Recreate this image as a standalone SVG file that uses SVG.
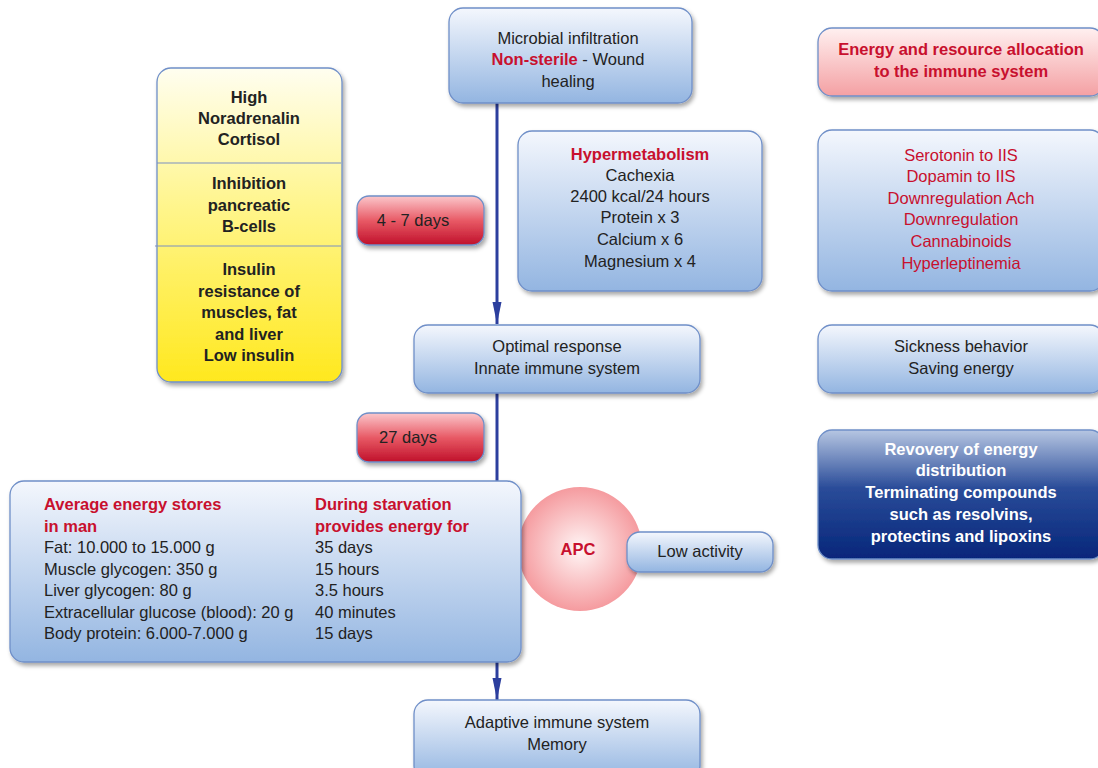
<svg xmlns="http://www.w3.org/2000/svg" width="1098" height="768" viewBox="0 0 1098 768">
<defs>
<linearGradient id="gBlue" x1="0" y1="0" x2="0" y2="1">
<stop offset="0" stop-color="#f4f7fd"/>
<stop offset="1" stop-color="#93b5e1"/>
</linearGradient>
<linearGradient id="gYellow" x1="0" y1="0" x2="0" y2="1">
<stop offset="0" stop-color="#fffef0"/>
<stop offset="0.45" stop-color="#fff58a"/>
<stop offset="1" stop-color="#ffe81e"/>
</linearGradient>
<linearGradient id="gPink" x1="0" y1="0" x2="0" y2="1">
<stop offset="0" stop-color="#fff0f0"/>
<stop offset="1" stop-color="#f4a0a3"/>
</linearGradient>
<linearGradient id="gRed" x1="0" y1="0" x2="0" y2="1">
<stop offset="0" stop-color="#fbc7cb"/>
<stop offset="0.5" stop-color="#e85a66"/>
<stop offset="1" stop-color="#c0102a"/>
</linearGradient>
<linearGradient id="gNavy" x1="0" y1="0" x2="0" y2="1">
<stop offset="0" stop-color="#b6c6e2"/>
<stop offset="0.45" stop-color="#2a4c99"/>
<stop offset="1" stop-color="#06267a"/>
</linearGradient>
<radialGradient id="gApc" cx="0.5" cy="0.5" r="0.5">
<stop offset="0" stop-color="#fff6f6"/>
<stop offset="1" stop-color="#f59b9f"/>
</radialGradient>
<filter id="sh" x="-10%" y="-10%" width="130%" height="140%">
<feDropShadow dx="2" dy="3" stdDeviation="2" flood-color="#000" flood-opacity="0.35"/>
</filter>
<marker id="arr" markerWidth="22" markerHeight="10" refX="22" refY="5" orient="auto" markerUnits="userSpaceOnUse" viewBox="0 0 22 10">
<path d="M0,0.5 L22,5 L0,9.5 Z" fill="#2c3f9e"/>
</marker>
</defs>
<style>
.box{stroke:#6f8fc8;stroke-width:1.3;filter:url(#sh)}
.blue{fill:url(#gBlue)}
.t{font-family:"Liberation Sans","Open Sans",sans-serif;font-size:16.5px;fill:#222;text-anchor:middle}
.b{font-weight:bold}
.red{fill:#c8102e}
.w{fill:#fff}
.l{text-anchor:start}
.conn{stroke:#2c3f9e;stroke-width:3;fill:none}
</style>
<rect width="1098" height="768" fill="#fff"/>

<g id="connectors">
<line class="conn" x1="497" y1="103" x2="497" y2="324" marker-end="url(#arr)"/>
<line class="conn" x1="497" y1="393" x2="497" y2="482"/>
<line class="conn" x1="497" y1="662" x2="497" y2="700" marker-end="url(#arr)"/>
</g>

<g id="hormones">
<rect class="box" x="157" y="68" width="185" height="314" rx="14" fill="url(#gYellow)"/>
<line x1="157" y1="163" x2="341" y2="163" stroke="#7b8fc2" stroke-width="1"/>
<line x1="155" y1="246" x2="341" y2="246" stroke="#7b8fc2" stroke-width="1"/>
<text class="t b" x="249" y="103">High</text>
<text class="t b" x="249" y="124">Noradrenalin</text>
<text class="t b" x="249" y="145">Cortisol</text>
<text class="t b" x="249" y="189">Inhibition</text>
<text class="t b" x="249" y="211">pancreatic</text>
<text class="t b" x="249" y="232">B-cells</text>
<text class="t b" x="249" y="275">Insulin</text>
<text class="t b" x="249" y="297">resistance of</text>
<text class="t b" x="249" y="318">muscles, fat</text>
<text class="t b" x="249" y="340">and liver</text>
<text class="t b" x="249" y="361">Low insulin</text>
</g>

<g id="microbial">
<rect class="box blue" x="449" y="8" width="243" height="95" rx="14"/>
<text class="t" x="568" y="44">Microbial infiltration</text>
<text class="t" x="568" y="65"><tspan class="b red">Non-sterile</tspan> - Wound</text>
<text class="t" x="568" y="87">healing</text>
</g>

<g id="energy-alloc">
<rect class="box" x="818" y="28" width="286" height="68" rx="14" fill="url(#gPink)" stroke="#e58d93"/>
<text class="t b red" x="961" y="55">Energy and resource allocation</text>
<text class="t b red" x="961" y="77">to the immune system</text>
</g>

<g id="hypermetabolism">
<rect class="box blue" x="518" y="131" width="244" height="160" rx="14"/>
<text class="t b red" x="640" y="160">Hypermetabolism</text>
<text class="t" x="640" y="181">Cachexia</text>
<text class="t" x="640" y="202">2400 kcal/24 hours</text>
<text class="t" x="640" y="223">Protein x 3</text>
<text class="t" x="640" y="245">Calcium x 6</text>
<text class="t" x="640" y="267">Magnesium x 4</text>
</g>

<g id="neuro">
<rect class="box blue" x="818" y="130" width="286" height="161" rx="14"/>
<text class="t red" x="961" y="161">Serotonin to IIS</text>
<text class="t red" x="961" y="182">Dopamin to IIS</text>
<text class="t red" x="961" y="204">Downregulation Ach</text>
<text class="t red" x="961" y="225">Downregulation</text>
<text class="t red" x="961" y="247">Cannabinoids</text>
<text class="t red" x="961" y="269">Hyperleptinemia</text>
</g>

<g id="days47">
<rect class="box" x="357" y="196" width="127" height="49" rx="12" fill="url(#gRed)" stroke="#d0505c"/>
<text class="t" x="413" y="226">4 - 7 days</text>
</g>

<g id="optimal">
<rect class="box blue" x="414" y="325" width="286" height="68" rx="14"/>
<text class="t" x="557" y="352">Optimal response</text>
<text class="t" x="557" y="374">Innate immune system</text>
</g>

<g id="sickness">
<rect class="box blue" x="818" y="325" width="286" height="68" rx="14"/>
<text class="t" x="961" y="352">Sickness behavior</text>
<text class="t" x="961" y="374">Saving energy</text>
</g>

<g id="days27">
<rect class="box" x="357" y="413" width="127" height="49" rx="12" fill="url(#gRed)" stroke="#d0505c"/>
<text class="t" x="408" y="443">27 days</text>
</g>

<g id="recovery">
<rect class="box" x="818" y="430" width="286" height="129" rx="14" fill="url(#gNavy)" stroke="#1d3a86"/>
<text class="t b w" x="961" y="455">Revovery of energy</text>
<text class="t b w" x="961" y="476">distribution</text>
<text class="t b w" x="961" y="498">Terminating compounds</text>
<text class="t b w" x="961" y="520">such as resolvins,</text>
<text class="t b w" x="961" y="542">protectins and lipoxins</text>
</g>

<g id="apc">
<circle cx="580" cy="549" r="62" fill="url(#gApc)"/>
<text class="t b red" x="578" y="555">APC</text>
</g>

<g id="energy-stores">
<rect class="box blue" x="10" y="481" width="511" height="181" rx="14"/>
<text class="t b red l" x="44" y="510">Average energy stores</text>
<text class="t b red l" x="44" y="532">in man</text>
<text class="t l" x="44" y="553">Fat: 10.000 to 15.000 g</text>
<text class="t l" x="44" y="575">Muscle glycogen: 350 g</text>
<text class="t l" x="44" y="596">Liver glycogen: 80 g</text>
<text class="t l" x="44" y="618">Extracellular glucose (blood): 20 g</text>
<text class="t l" x="44" y="639">Body protein: 6.000-7.000 g</text>
<text class="t b red l" x="315" y="510">During starvation</text>
<text class="t b red l" x="315" y="532">provides energy for</text>
<text class="t l" x="315" y="553">35 days</text>
<text class="t l" x="315" y="575">15 hours</text>
<text class="t l" x="315" y="596">3.5 hours</text>
<text class="t l" x="315" y="618">40 minutes</text>
<text class="t l" x="315" y="639">15 days</text>
</g>

<g id="low-activity">
<rect class="box blue" x="627" y="532" width="146" height="40" rx="13"/>
<text class="t" x="700" y="557">Low activity</text>
</g>

<g id="adaptive">
<rect class="box blue" x="414" y="700" width="286" height="80" rx="14"/>
<text class="t" x="557" y="728">Adaptive immune system</text>
<text class="t" x="557" y="750">Memory</text>
</g>
</svg>
